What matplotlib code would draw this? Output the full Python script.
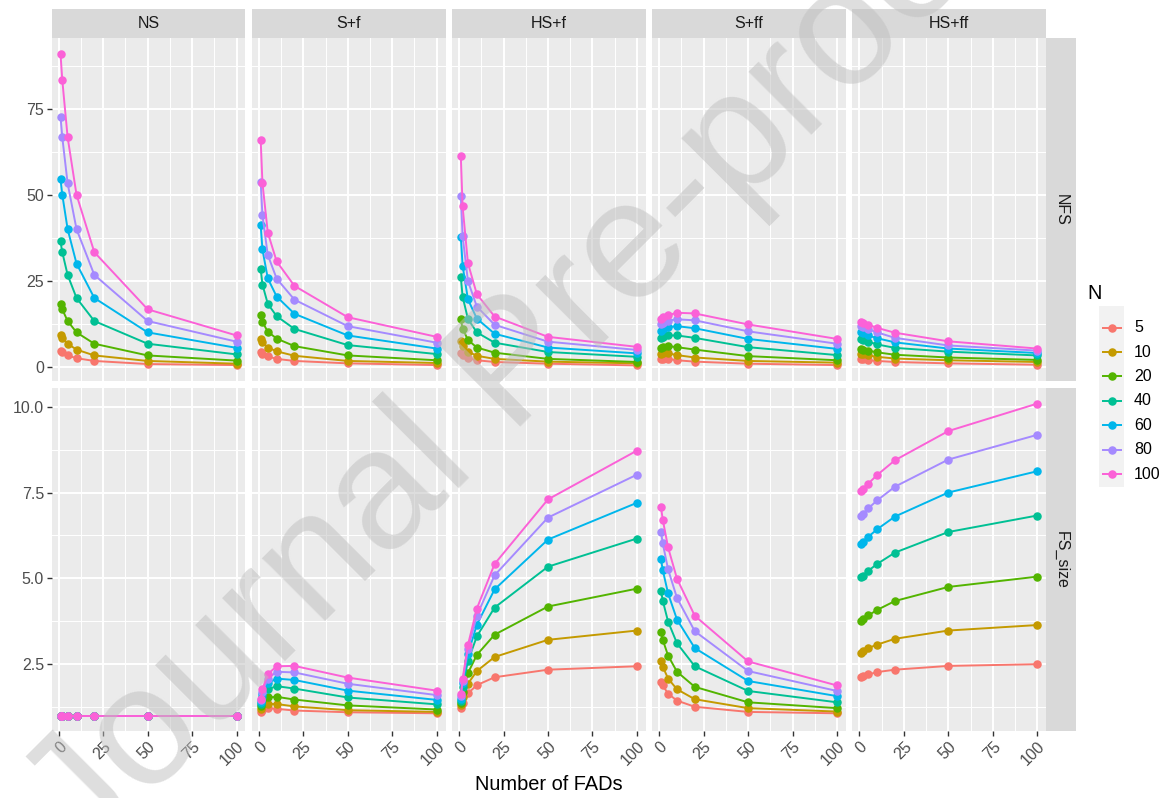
import matplotlib
matplotlib.use("Agg")
import matplotlib.pyplot as plt
from matplotlib.lines import Line2D
from matplotlib.patches import Rectangle

plt.rcParams['font.family'] = ['Liberation Sans', 'DejaVu Sans']

# ---------------- data ----------------
x_fads = [1, 2, 5, 10, 20, 50, 100]
n_levels = ["5", "10", "20", "40", "60", "80", "100"]
n_colors = ["#F8766D", "#C49A00", "#53B400", "#00C094", "#00B6EB", "#A58AFF", "#FB61D7"]
scenarios = ["NS", "S+f", "HS+f", "S+ff", "HS+ff"]
row_labels = ["NFS", "FS_size"]

# NFS (rows: N = 5,10,20,40,60,80,100 ; columns: x_fads)
nfs_ns = [
    [4.5, 4.2, 3.3, 2.5, 1.7, 0.8, 0.5],
    [9.1, 8.3, 6.7, 5.0, 3.3, 1.7, 0.9],
    [18.2, 16.7, 13.3, 10.0, 6.7, 3.3, 1.8],
    [36.4, 33.3, 26.7, 20.0, 13.3, 6.7, 3.6],
    [54.5, 50.0, 40.0, 30.0, 20.0, 10.0, 5.5],
    [72.7, 66.7, 53.3, 40.0, 26.7, 13.3, 7.3],
    [90.9, 83.3, 66.7, 50.0, 33.3, 16.7, 9.1],
]
nfs_sf = [
    [4.3, 3.7, 3.0, 2.3, 1.7, 1.0, 0.5],
    [8.1, 7.1, 5.6, 4.5, 3.2, 1.7, 1.1],
    [15.1, 13.0, 10.2, 8.2, 6.0, 3.3, 1.9],
    [28.5, 23.9, 18.3, 14.7, 11.0, 6.3, 3.7],
    [41.2, 34.1, 25.7, 20.4, 15.4, 9.1, 5.3],
    [53.7, 44.0, 32.5, 25.6, 19.5, 11.8, 7.0],
    [66.0, 53.4, 39.0, 30.6, 23.5, 14.4, 8.7],
]
nfs_hsf = [
    [4.0, 3.3, 2.5, 1.9, 1.4, 0.9, 0.4],
    [7.4, 6.0, 4.4, 3.2, 2.3, 1.5, 1.0],
    [13.8, 11.1, 7.8, 5.6, 4.1, 2.3, 1.4],
    [26.0, 20.4, 13.9, 10.0, 7.0, 4.3, 2.9],
    [37.8, 29.4, 19.6, 14.0, 9.6, 5.6, 3.9],
    [49.7, 38.0, 24.9, 17.5, 12.2, 7.3, 4.9],
    [61.1, 46.6, 30.1, 21.1, 14.6, 8.7, 5.8],
]
nfs_sff = [
    [2.4, 2.3, 2.3, 1.9, 1.5, 0.9, 0.5],
    [3.8, 3.9, 3.9, 3.4, 2.7, 1.7, 1.2],
    [5.6, 5.7, 6.0, 5.7, 5.0, 3.1, 1.9],
    [8.4, 8.8, 9.1, 9.1, 8.4, 5.7, 3.4],
    [10.5, 11.0, 11.5, 11.8, 11.2, 8.1, 5.2],
    [12.3, 12.8, 13.4, 13.8, 13.5, 10.3, 6.7],
    [13.8, 14.4, 15.0, 15.7, 15.5, 12.3, 8.1],
]
nfs_hsff = [
    [2.3, 2.2, 1.9, 1.7, 1.4, 1.0, 0.6],
    [3.7, 3.6, 3.3, 2.9, 2.4, 1.9, 1.4],
    [5.2, 5.0, 4.7, 4.2, 3.5, 2.7, 2.0],
    [8.0, 7.7, 7.3, 6.5, 5.5, 4.4, 3.3],
    [10.0, 9.7, 9.1, 8.3, 7.1, 5.3, 4.0],
    [11.8, 11.6, 10.9, 10.0, 8.4, 6.2, 4.7],
    [13.1, 12.8, 12.2, 11.3, 9.9, 7.4, 5.3],
]

# FS_size
fs_ns = [
    [1.0, 1.0, 1.0, 1.0, 1.0, 1.0, 1.0],
    [1.0, 1.0, 1.0, 1.0, 1.0, 1.0, 1.0],
    [1.0, 1.0, 1.0, 1.0, 1.0, 1.0, 1.0],
    [1.0, 1.0, 1.0, 1.0, 1.0, 1.0, 1.0],
    [1.0, 1.0, 1.0, 1.0, 1.0, 1.0, 1.0],
    [1.0, 1.0, 1.0, 1.0, 1.0, 1.0, 1.0],
    [1.0, 1.0, 1.0, 1.0, 1.0, 1.0, 1.0],
]
fs_sf = [
    [1.12, 1.18, 1.22, 1.20, 1.15, 1.10, 1.07],
    [1.20, 1.34, 1.34, 1.34, 1.27, 1.16, 1.11],
    [1.28, 1.46, 1.53, 1.55, 1.47, 1.30, 1.18],
    [1.35, 1.55, 1.77, 1.86, 1.79, 1.53, 1.33],
    [1.40, 1.63, 1.95, 2.08, 2.04, 1.73, 1.46],
    [1.45, 1.70, 2.08, 2.28, 2.26, 1.93, 1.60],
    [1.48, 1.77, 2.21, 2.44, 2.45, 2.11, 1.73],
]
fs_hsf = [
    [1.23, 1.36, 1.65, 1.89, 2.12, 2.34, 2.44],
    [1.30, 1.54, 1.93, 2.30, 2.71, 3.21, 3.48],
    [1.37, 1.70, 2.24, 2.77, 3.36, 4.18, 4.70],
    [1.44, 1.85, 2.59, 3.31, 4.15, 5.34, 6.16],
    [1.50, 1.95, 2.79, 3.65, 4.68, 6.13, 7.20],
    [1.56, 2.01, 2.94, 3.91, 5.09, 6.77, 8.02],
    [1.62, 2.07, 3.06, 4.12, 5.42, 7.30, 8.72],
]
fs_sff = [
    [1.97, 1.88, 1.64, 1.44, 1.26, 1.11, 1.07],
    [2.60, 2.43, 2.08, 1.77, 1.48, 1.22, 1.12],
    [3.43, 3.21, 2.75, 2.28, 1.84, 1.39, 1.22],
    [4.64, 4.35, 3.74, 3.11, 2.44, 1.72, 1.39],
    [5.56, 5.24, 4.56, 3.80, 2.97, 2.01, 1.57],
    [6.36, 6.02, 5.26, 4.43, 3.46, 2.30, 1.72],
    [7.07, 6.71, 5.90, 4.99, 3.91, 2.58, 1.88],
]
fs_hsff = [
    [2.13, 2.15, 2.20, 2.27, 2.34, 2.45, 2.50],
    [2.84, 2.88, 2.97, 3.07, 3.24, 3.48, 3.64],
    [3.77, 3.81, 3.92, 4.08, 4.34, 4.75, 5.05],
    [5.03, 5.07, 5.22, 5.42, 5.75, 6.35, 6.83],
    [6.00, 6.05, 6.21, 6.43, 6.80, 7.50, 8.12],
    [6.81, 6.88, 7.04, 7.27, 7.67, 8.46, 9.18],
    [7.54, 7.61, 7.76, 8.01, 8.44, 9.29, 10.09],
]

nfs_data = [nfs_ns, nfs_sf, nfs_hsf, nfs_sff, nfs_hsff]
fs_data = [fs_ns, fs_sf, fs_hsf, fs_sff, fs_hsff]
row_data = [nfs_data, fs_data]

x_ticks = [0, 25, 50, 75, 100]
x_minor = [12.5, 37.5, 62.5, 87.5]
y_ticks = [[0, 25, 50, 75], [2.5, 5.0, 7.5, 10.0]]
y_ticklabels = [["0", "25", "50", "75"], ["2.5", "5.0", "7.5", "10.0"]]
y_minor = [[12.5, 37.5, 62.5, 87.5], [1.25, 3.75, 6.25, 8.75]]

# ---------------- layout (pixels) ----------------
W, H = 1172, 798
fig = plt.figure(figsize=(W / 100, H / 100), dpi=100)
fig.patch.set_facecolor("white")


def fbox(x0, y0, x1, y1):
    return [x0 / W, 1 - y1 / H, (x1 - x0) / W, (y1 - y0) / H]


panel_left = 51.7
panel_w = 193.66
gap = 6.5
row_bounds = [(38.3, 381.0), (388.0, 731.3)]
strip_top = (9.0, 38.3)
strip_right = (1046.0, 1076.0)

GRID = "white"
PANEL = "#EBEBEB"
STRIP = "#D9D9D9"


def expand(vals):
    lo = min(vals)
    hi = max(vals)
    pad = (hi - lo) * 0.05
    return lo - pad, hi + pad


xlim = expand(x_fads)

for r in range(2):
    allv = [v for sc in row_data[r] for series in sc for v in series]
    ylim = expand(allv)
    y0, y1 = row_bounds[r]
    for c in range(5):
        x0 = panel_left + c * (panel_w + gap)
        ax = fig.add_axes(fbox(x0, y0, x0 + panel_w, y1))
        ax.set_facecolor(PANEL)
        for s in ax.spines.values():
            s.set_visible(False)
        ax.set_xlim(*xlim)
        ax.set_ylim(*ylim)
        ax.set_xticks(x_ticks)
        ax.set_xticks(x_minor, minor=True)
        ax.set_yticks(y_ticks[r])
        ax.set_yticks(y_minor[r], minor=True)
        ax.grid(True, which="major", color=GRID, lw=1.4)
        ax.grid(True, which="minor", color=GRID, lw=0.7)
        ax.set_axisbelow(True)
        ax.tick_params(which="minor", length=0)
        ax.tick_params(which="major", length=3.6, width=1.0, color="#333333",
                       labelsize=11.5, labelcolor="#4D4D4D", pad=2)
        if c == 0:
            ax.set_yticklabels(y_ticklabels[r])
        else:
            ax.tick_params(axis="y", length=0, labelleft=False)
        if r == 1:
            ax.set_xticklabels([str(t) for t in x_ticks])
            for lab in ax.get_xticklabels():
                lab.set_rotation(45)
                lab.set_ha("right")
                lab.set_va("top")
                lab.set_rotation_mode("anchor")
        else:
            ax.tick_params(axis="x", length=0, labelbottom=False)

        for k in range(len(n_levels)):
            ax.plot(x_fads, row_data[r][c][k], color=n_colors[k], lw=1.4,
                    marker="o", ms=5.1, mec=n_colors[k], mfc=n_colors[k],
                    solid_capstyle="butt", zorder=3)

        # top strips
        if r == 0:
            sax = fig.add_axes(fbox(x0, strip_top[0], x0 + panel_w, strip_top[1]))
            sax.set_facecolor(STRIP)
            sax.set_xticks([])
            sax.set_yticks([])
            for s in sax.spines.values():
                s.set_visible(False)
            sax.text(0.5, 0.5, scenarios[c], ha="center", va="center",
                     fontsize=11.5, color="#1A1A1A", transform=sax.transAxes)
    # right strip
    rax = fig.add_axes(fbox(strip_right[0], y0, strip_right[1], y1))
    rax.set_facecolor(STRIP)
    rax.set_xticks([])
    rax.set_yticks([])
    for s in rax.spines.values():
        s.set_visible(False)
    rax.text(0.5, 0.5, row_labels[r], ha="center", va="center", rotation=-90,
             fontsize=11.5, color="#1A1A1A", transform=rax.transAxes)

# axis title
fig.text((panel_left + 1046) / 2 / W, 1 - 784 / H, "Number of FADs",
         ha="center", va="center", fontsize=14.4, color="black")

# legend
fig.text(1087 / W, 1 - 293 / H, "N", ha="left", va="center", fontsize=14.4, color="black")
fig.add_artist(Rectangle((1099 / W, 1 - 486.7 / H), 25 / W, 180.7 / H,
                         transform=fig.transFigure, facecolor="#F2F2F2", edgecolor="none"))
for k, lab in enumerate(n_levels):
    yy = 1 - (327.7 + k * 24.4) / H
    fig.add_artist(Line2D([1101.5 / W, 1121.5 / W], [yy, yy], transform=fig.transFigure,
                          color=n_colors[k], lw=1.4, solid_capstyle="butt"))
    fig.add_artist(Line2D([1111.5 / W], [yy], transform=fig.transFigure,
                          color=n_colors[k], marker="o", ms=5.1, lw=0))
    fig.text(1134 / W, yy, lab, ha="left", va="center", fontsize=11.5, color="black")

# watermark (cut off at the image edges, as in the reference)
fig.text(517 / W, 1 - 368 / H, "Journal Pre-proof", rotation=45, rotation_mode="anchor",
         ha="center", va="center", fontsize=122, color="#BDBDBD", alpha=0.5, zorder=10)

fig.savefig("out.png", dpi=100, facecolor="white")
